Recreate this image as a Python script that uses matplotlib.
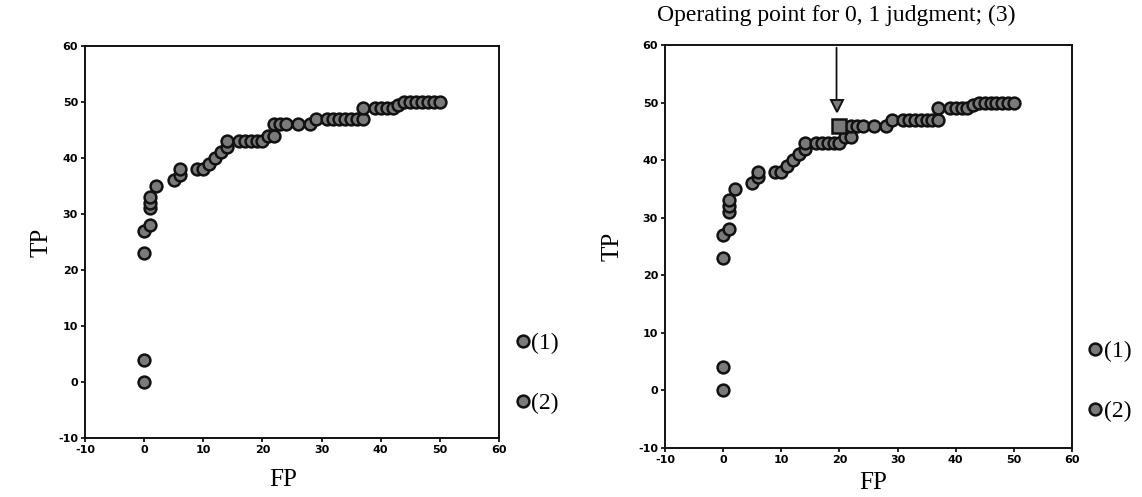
import matplotlib
matplotlib.use("Agg")
import matplotlib.pyplot as plt
from matplotlib.lines import Line2D

plt.rcParams["axes.unicode_minus"] = False

# ---- data ----
fp_curve = [0, 0, 1, 1, 1, 1, 2, 5, 6, 6, 9, 10, 11, 12, 13, 14, 14, 16, 17, 18,
            19, 20, 21, 22, 22, 23, 24, 26, 28, 29, 31, 32, 33, 34, 35, 36, 37, 37,
            39, 40, 41, 42, 43, 44, 45, 46, 47, 48, 49, 50]
tp_curve = [23, 27, 28, 31, 32, 33, 35, 36, 37, 38, 38, 38, 39, 40, 41, 42, 43, 43, 43, 43,
            43, 43, 44, 44, 46, 46, 46, 46, 46, 47, 47, 47, 47, 47, 47, 47, 47, 49,
            49, 49, 49, 49, 49.5, 50, 50, 50, 50, 50, 50, 50]
fp_low = [0, 0]
tp_low = [0, 4]
op_fp = [20]
op_tp = [46]
arrow_fp = [19.5]
arrow_tp = [49.4]
legend_labels = ["(1)", "(2)"]
ticks = [-10, 0, 10, 20, 30, 40, 50, 60]
annot_text = "Operating point for 0, 1 judgment; (3)"

SERIF = "Liberation Serif"
FACE = "#7a7a7a"
EDGE = "#111111"

fig = plt.figure(figsize=(11.42, 4.97), dpi=100)
ax1 = fig.add_axes([85/1142, 59/497, 414/1142, 392/497])
ax2 = fig.add_axes([665/1142, 49/497, 407/1142, 403/497])

mk = dict(linestyle="none", marker="o", ms=8.5, mfc=FACE, mec=EDGE, mew=1.8)

for ax, ylx, xlx, xly in ((ax1, -0.104, 0.478, -0.107), (ax2, -0.128, 0.511, -0.087)):
    ax.plot(fp_curve, tp_curve, **mk)
    ax.plot(fp_low, tp_low, **mk)
    ax.set_xlim(-10, 60)
    ax.set_ylim(-10, 60)
    ax.set_xticks(ticks)
    ax.set_yticks(ticks)
    ax.tick_params(direction="out", length=3, width=1.2, labelsize=8, pad=2,
                   top=False, right=False)
    for lab in ax.get_xticklabels() + ax.get_yticklabels():
        lab.set_fontweight("bold")
    for sp in ax.spines.values():
        sp.set_linewidth(1.4)
        sp.set_color("#111111")
    ax.set_xlabel("FP", fontsize=18, family=SERIF)
    ax.set_ylabel("TP", fontsize=18, family=SERIF)
    ax.xaxis.set_label_coords(xlx, xly)
    ax.xaxis.label.set_verticalalignment("center")
    ax.yaxis.set_label_coords(ylx, 0.5)
    ax.yaxis.label.set_verticalalignment("center")
    handles = [Line2D([], [], **mk), Line2D([], [], **mk)]
    ax.legend(handles, legend_labels, loc="center left", bbox_to_anchor=(1.02, 0.165),
              frameon=False, prop={"family": SERIF, "size": 17},
              handlelength=0.5, handletextpad=0.1, labelspacing=1.65, borderaxespad=0)

# operating point on the right panel
ax2.plot(op_fp, op_tp, linestyle="none", marker="s", ms=10, mfc=FACE, mec=EDGE, mew=1.8)
ax2.plot(arrow_fp, arrow_tp, linestyle="none", marker="v", ms=9, mfc=FACE, mec=EDGE, mew=1.4)
ax2.annotate(annot_text, xy=(arrow_fp[0], arrow_tp[0] + 1.2),
             xytext=(arrow_fp[0], 0.97), textcoords=("data", "figure fraction"),
             ha="center", va="center", fontsize=17, family=SERIF,
             arrowprops=dict(arrowstyle="-", lw=1.3, color=EDGE, shrinkA=14, shrinkB=0),
             annotation_clip=False)

fig.savefig("out.png", dpi=100)
